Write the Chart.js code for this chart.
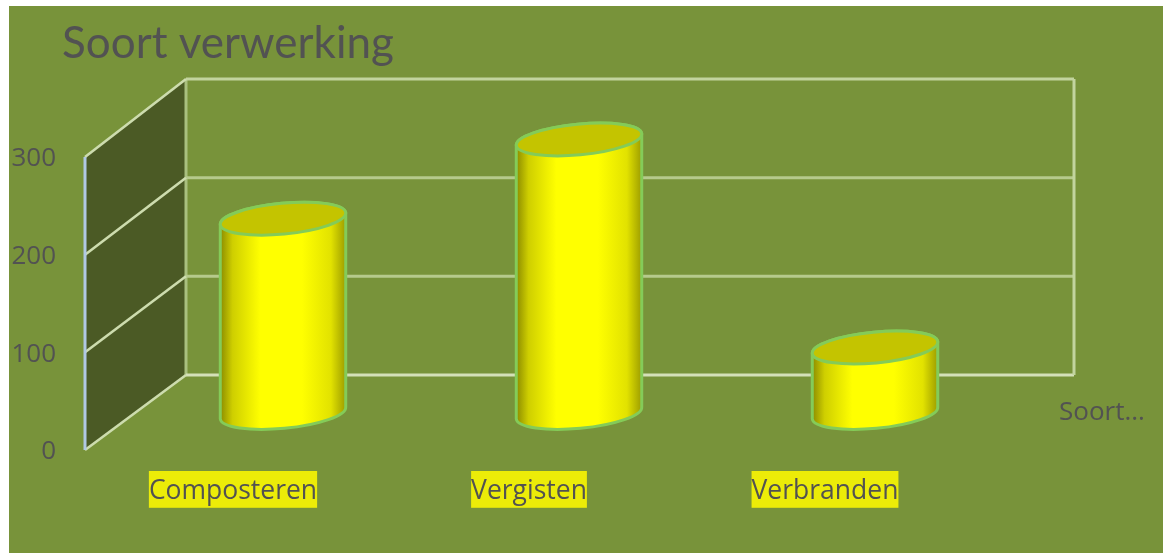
<!DOCTYPE html>
<html>
<head>
<meta charset="utf-8">
<style>html,body{margin:0;padding:0;background:#fff}canvas{display:block;filter:blur(.7px)}</style>
<script src="https://cdn.jsdelivr.net/npm/chart.js@4"></script>
</head>
<body>
<canvas id="c" width="1163" height="553"></canvas>
<script>
const categories = ["Composteren", "Vergisten", "Verbranden"];
const values = [199, 280, 67];
const yTicks = [0, 100, 200, 300];
const chartTitle = "Soort verwerking";
const seriesAxisLabel = "Soort...";

const TEXT = "#525252", BG = "#78933a", WALL = "#4b5a25";
const DX = 101, DY = 75, BACK_K = 296 / 293;   // wall depth
const CX = 50, CY = 37;                        // cylinder depth offset
const ROT = -5.4 * Math.PI / 180;

const scene = {
  id: "scene",
  afterLayout(chart) { chart.titleBlock.left = 62; },
  beforeDraw(chart) {
    const c = chart.ctx;
    c.save();
    c.fillStyle = "#fff"; c.fillRect(0, 0, chart.width, chart.height);
    c.fillStyle = BG; c.fillRect(9, 6, chart.width - 9, chart.height - 6);
    c.restore();
  },
  beforeDatasetsDraw(chart) {
    const c = chart.ctx, y = chart.scales.y, a = chart.chartArea;
    const x0 = a.left, y0 = y.getPixelForValue(0);
    const back = v => (y0 - DY) - (y0 - y.getPixelForValue(v)) * BACK_K;
    const bl = x0 + DX, br = a.right + DX;
    const top = yTicks[yTicks.length - 1];
    c.save();
    c.fillStyle = WALL;
    c.beginPath();
    c.moveTo(x0, y0); c.lineTo(x0, y.getPixelForValue(top));
    c.lineTo(bl, back(top)); c.lineTo(bl, back(0)); c.closePath(); c.fill();
    c.lineWidth = 3;
    c.strokeStyle = "#a9c07f";
    c.beginPath(); c.moveTo(bl, back(top)); c.lineTo(bl, back(0)); c.stroke();
    yTicks.forEach(v => {
      c.strokeStyle = v === 0 ? "#d4e0b8" : (v === top ? "#c2d49e" : "#b6ca8c");
      c.lineWidth = 3;
      c.beginPath();
      c.moveTo(bl, back(v)); c.lineTo(br, back(v));
      c.stroke();
      c.strokeStyle = "#cddcae";
      c.lineWidth = 2.6;
      c.beginPath();
      c.moveTo(x0, y.getPixelForValue(v)); c.lineTo(bl, back(v));
      c.stroke();
    });
    c.lineWidth = 3;
    c.strokeStyle = "#c2d49e";
    c.beginPath(); c.moveTo(br, back(top)); c.lineTo(br, back(0)); c.stroke();
    c.strokeStyle = "#b0c8e4";
    c.beginPath(); c.moveTo(x0, y.getPixelForValue(top)); c.lineTo(x0, y0); c.stroke();
    c.restore();
  },
  afterDatasetsDraw(chart) {
    const c = chart.ctx;
    chart.getDatasetMeta(0).data.forEach(bar => {
      const cx = bar.x + CX, rx = bar.width / 2, ry = 15.4;
      const topY = bar.y - CY, baseY = bar.base - CY;
      c.save();
      const g = c.createLinearGradient(cx - rx, 0, cx + rx, 0);
      g.addColorStop(0, "#8a8a00");
      g.addColorStop(0.1, "#cfcf00");
      g.addColorStop(0.32, "#ffff00");
      g.addColorStop(0.65, "#ffff00");
      g.addColorStop(0.88, "#e2e200");
      g.addColorStop(1, "#9c9c00");
      c.beginPath();
      c.ellipse(cx, baseY, rx, ry, ROT, 0, Math.PI);
      c.ellipse(cx, topY, rx, ry, ROT, Math.PI, Math.PI * 2);
      c.closePath();
      c.fillStyle = g; c.fill();
      c.strokeStyle = "#84cb58"; c.lineWidth = 3; c.stroke();
      c.beginPath();
      c.ellipse(cx, topY, rx, ry, ROT, 0, Math.PI * 2);
      c.fillStyle = "#c4c400"; c.fill(); c.stroke();
      c.restore();
    });
    c.save();
    c.fillStyle = TEXT;
    c.font = "26px 'Open Sans'";
    c.textBaseline = "middle";
    c.fillText(seriesAxisLabel, 1059, 413);
    c.restore();
  }
};

new Chart(document.getElementById("c"), {
  type: "bar",
  plugins: [scene],
  data: {
    labels: categories,
    datasets: [{
      data: values,
      backgroundColor: "transparent",
      borderWidth: 0,
      categoryPercentage: 1,
      barPercentage: 126 / 296
    }]
  },
  options: {
    responsive: false,
    animation: false,
    layout: { padding: { right: 190 } },
    plugins: {
      legend: { display: false },
      tooltip: { enabled: false },
      title: {
        display: true,
        text: chartTitle,
        align: "start",
        color: TEXT,
        font: { family: "Lato", size: 44, weight: "normal", lineHeight: 1.2 },
        padding: { top: 17, bottom: 87.2 }
      }
    },
    scales: {
      x: {
        grid: { display: false },
        border: { display: false },
        afterFit(s) { s.height = 103; },
        ticks: {
          color: TEXT,
          font: { family: "Open Sans", size: 26.5 },
          padding: 18,
          maxRotation: 0,
          showLabelBackdrop: true,
          backdropColor: "#ecec08",
          backdropPadding: { left: 0, right: 0, top: 5, bottom: 0 }
        }
      },
      y: {
        min: 0,
        max: 300,
        afterFit(s) { s.width = 85; },
        grid: { display: false },
        border: { display: false },
        afterBuildTicks(s) { s.ticks = yTicks.map(v => ({ value: v })); },
        ticks: {
          color: TEXT,
          font: { family: "Open Sans", size: 26 },
          padding: 21,
          labelOffset: 2
        }
      }
    }
  }
});
</script>
</body>
</html>
